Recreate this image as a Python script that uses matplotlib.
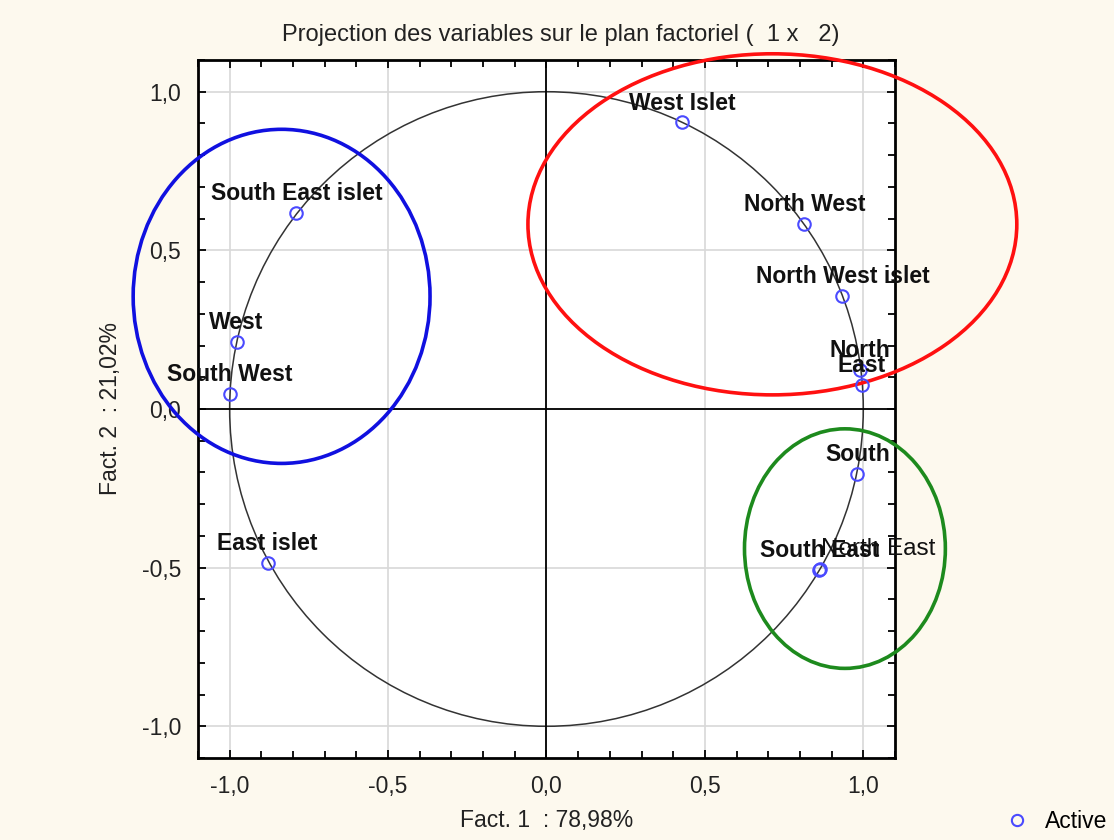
import numpy as np
import matplotlib.pyplot as plt
from matplotlib.patches import Ellipse, Circle
from matplotlib.ticker import FixedLocator, MultipleLocator

plt.rcParams['font.family'] = ['Liberation Sans', 'DejaVu Sans']

# variable coordinates on factors 1 and 2
names = ['West Islet', 'North West', 'North West islet', 'North', 'East',
         'South', 'South East', 'North East',
         'South East islet', 'West', 'South West', 'East islet']
fact1 = [0.429, 0.814, 0.934, 0.990, 0.995, 0.981, 0.861, 0.862,
         -0.789, -0.978, -1.000, -0.880]
fact2 = [0.903, 0.582, 0.355, 0.123, 0.075, -0.204, -0.506, -0.504,
         0.619, 0.211, 0.047, -0.484]
label_dx = [0, 0, 0, 0, 0, 0, 0, 42, 0, 0, 0, 0]
label_bold = [True] * 7 + [False] + [True] * 4

# groupings drawn as ellipses
grp_x = [-0.836, 0.713, 0.942]
grp_y = [0.355, 0.582, -0.440]
grp_w = [0.937, 1.543, 0.634]
grp_h = [1.053, 1.075, 0.755]
grp_col = ['#1010e0', '#ff1010', '#1d8a1d']

bg = '#fdf9ee'
fig = plt.figure(figsize=(11.14, 8.4), dpi=100, facecolor=bg)
ax = fig.add_axes([0.1777, 0.0976, 0.6257, 0.831])
ax.set_xlim(-1.1, 1.1)
ax.set_ylim(-1.1, 1.1)

ax.grid(True, color='#d8d8d8', lw=1.2)
ax.set_axisbelow(True)
ax.axhline(0, color='black', lw=1.3)
ax.axvline(0, color='black', lw=1.3)
ax.add_patch(Circle((0, 0), 1.0, fill=False, ec='#333333', lw=1.1))

for cx, cy, w, h, c in zip(grp_x, grp_y, grp_w, grp_h, grp_col):
    ax.add_patch(Ellipse((cx, cy), w, h, fill=False, ec=c, lw=2.6,
                         clip_on=False, zorder=4))

ax.plot(fact1, fact2, 'o', mfc='none', mec='#4a4aff', ms=9, mew=1.5,
        zorder=5, clip_on=False, label='Active')

for n, x, y, dx, b in zip(names, fact1, fact2, label_dx, label_bold):
    ax.annotate(n, (x, y), xytext=(dx, 14), textcoords='offset points',
                ha='center', va='center', fontsize=16.5 if b else 17.5,
                fontweight='bold' if b else 'normal', color='#111111',
                zorder=6)

ticks = [-1.0, -0.5, 0.0, 0.5, 1.0]
lbls = ['-1,0', '-0,5', '0,0', '0,5', '1,0']
ax.xaxis.set_major_locator(FixedLocator(ticks))
ax.yaxis.set_major_locator(FixedLocator(ticks))
ax.set_xticklabels(lbls)
ax.set_yticklabels(lbls)
ax.xaxis.set_minor_locator(MultipleLocator(0.1))
ax.yaxis.set_minor_locator(MultipleLocator(0.1))
ax.tick_params(which='both', direction='in', top=True, right=True,
               labelsize=16.5, labelcolor='#222222', width=1.3)
ax.tick_params(which='major', length=6, pad=12)
ax.tick_params(which='minor', length=5)
for s in ax.spines.values():
    s.set_linewidth(2)

ax.set_xlabel('Fact. 1  : 78,98%', fontsize=16.5, color='#222222', labelpad=8)
ax.set_ylabel('Fact. 2  : 21,02%', fontsize=16.5, color='#222222', labelpad=14)
ax.set_title('Projection des variables sur le plan factoriel (  1 x   2)',
             fontsize=17, color='#222222', pad=14, x=0.52)

ax.legend(loc='lower right', bbox_to_anchor=(1.0, 0.0), bbox_transform=fig.transFigure,
          frameon=False, fontsize=16.5, handletextpad=0.6, handlelength=1.2,
          markerscale=0.9, borderpad=0.2, borderaxespad=0.1)

fig.savefig('out.png', dpi=100, facecolor=bg)
